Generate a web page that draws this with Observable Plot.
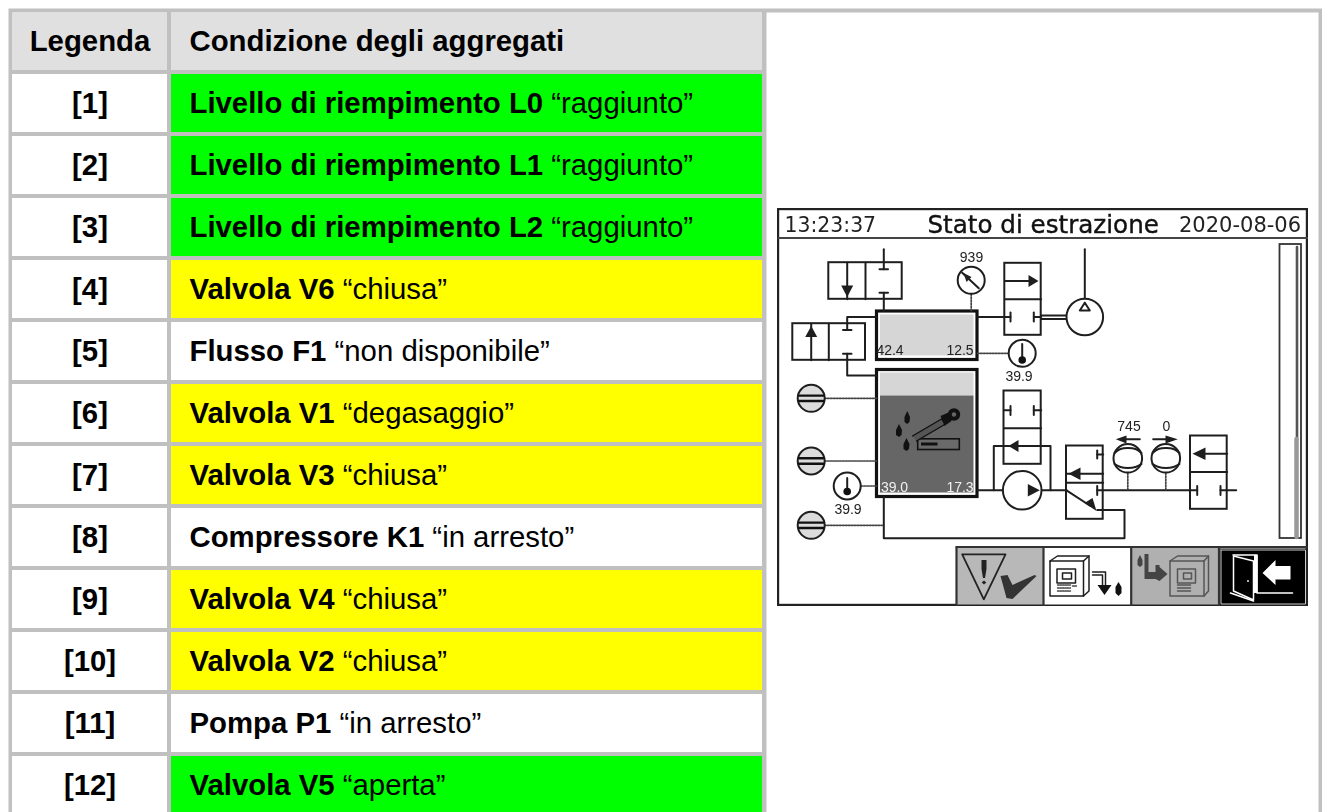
<!DOCTYPE html>
<html><head><meta charset="utf-8">
<style>html,body{margin:0;padding:0;background:#fff;overflow:hidden;width:1322px;height:812px;position:relative}</style>
<script src="https://cdn.jsdelivr.net/npm/d3@7"></script>
<script src="https://cdn.jsdelivr.net/npm/@observablehq/plot@0.6"></script>
</head><body>
<script>
// ---------- table content ----------
const legendLabels = ["Legenda","[1]","[2]","[3]","[4]","[5]","[6]","[7]","[8]","[9]","[10]","[11]","[12]"];
const conditionNames = ["Condizione degli aggregati","Livello di riempimento L0","Livello di riempimento L1","Livello di riempimento L2","Valvola V6","Flusso F1","Valvola V1","Valvola V3","Compressore K1","Valvola V4","Valvola V2","Pompa P1","Valvola V5"];
const conditionStates = ["","“raggiunto”","“raggiunto”","“raggiunto”","“chiusa”","“non disponibile”","“degasaggio”","“chiusa”","“in arresto”","“chiusa”","“chiusa”","“in arresto”","“aperta”"];
const rowStatus = ["head","ok","ok","ok","warn","off","warn","warn","off","warn","warn","off","ok"];

const statusColor = {head:"#e0e0e0", ok:"#00ff00", warn:"#ffff00", off:"#ffffff"};
const FONT = "Liberation Sans, Arial, sans-serif";
const FS = 29.33;
const ctx = document.createElement("canvas").getContext("2d");
ctx.font = `bold ${FS}px "Liberation Sans"`;
const rows = legendLabels.map((legend,i)=>({
  legend, name:conditionNames[i], state:conditionStates[i],
  fill:statusColor[rowStatus[i]], legendFill:i===0?statusColor.head:"#ffffff",
  stateX:189+ctx.measureText(conditionNames[i]+" ").width
}));

const table = Plot.plot({
  width:1322,height:812,marginTop:8,marginLeft:8,marginRight:0,marginBottom:0,
  style:{position:"absolute",left:0,top:0,background:"#fff"},
  x:{domain:[8,1322],range:[8,1322],axis:null},
  y:{type:"band",domain:legendLabels,range:[12,814],paddingInner:4/62,paddingOuter:0,round:false,axis:null},
  color:{type:"identity"},
  marks:[
    Plot.frame({fill:"#c0c0c0",stroke:"none"}),
    Plot.frame({fill:"#ffffff",stroke:"none",insetLeft:758,insetTop:4,insetRight:4}),
    Plot.barX(rows,{x1:12,x2:167,y:"legend",fill:"legendFill"}),
    Plot.barX(rows,{x1:171,x2:762,y:"legend",fill:"fill"}),
    Plot.text(rows,{x:89.5,y:"legend",text:"legend",fontWeight:"bold",fontSize:FS,fontFamily:FONT,fill:"#000"}),
    Plot.text(rows,{x:189,y:"legend",text:"name",fontWeight:"bold",fontSize:FS,fontFamily:FONT,textAnchor:"start",fill:"#000"}),
    Plot.text(rows,{x:"stateX",y:"legend",text:"state",fontSize:FS,fontFamily:FONT,textAnchor:"start",fill:"#000"})
  ]
});
document.body.appendChild(table);

// ---------- instrument screen (values in page pixels) ----------
const ink = "#1e1e1e";
const LW = 2;
const panelBoxes = [
  [828.3,261.7,901.7,298.3],[792.3,322.7,865,359.3],
  [1004.3,262.3,1040.7,334.3],[1003.5,390,1040.7,463.3],
  [1066,445,1102.7,518.3],[1190,435,1226.7,508.3]
];
const pipeLines = [
  [865,261.7,865,298.3],[828.3,322.7,828.3,359.3],
  [846.7,261.7,846.7,298.3],[810.7,322.7,810.7,359.3],
  [883.3,248.3,883.3,268.3],[879,268.3,887.5,268.3],[879,291.7,887.5,291.7],[883.3,291.7,883.3,310],
  [876,316,846.7,316,846.7,329],[842.5,329,851,329],[842.5,352.7,851,352.7],[846.7,352.7,846.7,374.5,876,374.5],
  [1004.3,298.3,1040.7,298.3],[977,316,1010,316],[1010,311.5,1010,320.5],[1033.3,311.5,1033.3,320.5],
  [1033.3,316,1040.7,316],[1004.3,280,1030,280],
  [1040.7,314.5,1066.7,314.5],[1040.7,318,1066.7,318],[1084.3,248.3,1084.3,298],
  [1003.5,427.3,1040.7,427.3],[1010,405,1010,414],[1033.3,405,1033.3,414],[1003.5,409.3,1010,409.3],[1033.3,409.3,1040.7,409.3],
  [977,489.3,1003,489.3],[993.3,489.3,993.3,445,1050,445,1050,489.3],[1040,489.3,1066,489.3],
  [883.3,496,883.3,537.3,1124,537.3,1124,509,1096.7,509],
  [1066,481.7,1102.7,481.7],[1066,472.7,1102.7,472.7],[1096.7,449.5,1096.7,457.5],[1096.7,453.5,1102.7,453.5],
  [1066,489.3,1090,505],[1096.7,485,1096.7,494],[1096.7,489.3,1196.7,489.3],[1196.7,485,1196.7,494],
  [1190,471,1226.7,471],[1205,452.7,1226.7,452.7],[1220,485,1220,494],[1220,489.3,1235.7,489.3],
  [1120,438.3,1139.3,438.3],[1152.7,438.3,1172,438.3]
];
const solidShapes = [
  [840.7,284.5,852.7,284.5,846.7,296],[804.7,336,816.7,336,810.7,325],
  [1028,274,1028,286,1038,280],[1018,439,1018,451,1008,445],
  [1027.3,483,1027.3,495.5,1039.3,489.3],[1080,466.5,1080,479,1068,472.7],
  [1084,502,1092,497,1096,510],
  [1205,446.5,1205,459,1192,452.7],
  [1126,434.5,1126,442.5,1115.3,438.3],[1165,434.5,1165,442.5,1177.3,438.3]
];
const dottedLines = [
  [970.7,293,970.7,310],[977,352.3,1008,352.3],[824,397.3,876,397.3],[824,460,876,460],[824,524.3,882,524.3],
  [860.7,485,876,485],[1127.3,472,1127.3,489],[1165.3,472,1165.3,489]
];
const roundGauges = [[970.7,279.3,13.5],[1021.7,352.3,13.5],[846.7,485,13.5],[1127.3,457.3,14.3],[1165.3,457.3,14.3],[1084.3,316,18.3],[1021.7,489.3,19.3]];
const levelSwitches = [[810.7,397.3,13.5],[810.7,460,13.5],[810.7,524.3,13.5]];
const bulbs = [[1021.7,359,3.8],[846.7,490.5,3.8]];
const thermoStems = [[1021.7,343,1021.7,359],[846.7,477,846.7,490]];
const gaugeNeedle = [[961.7,271.7,978.3,287.3]];
const gaugeNeedleHead = [[963,272,971,276,966,281]];
const pumpOpen = [[1084.3,301.7,1079.3,309.5,1089.3,309.5,1084.3,301.7]];
const flowArcs = [
  [1114,452,1120,448,1127.3,447,1135,448,1141,452],[1114,463,1120,466,1127.3,467,1135,466,1141,463],
  [1152,452,1158,448,1165.3,447,1173,448,1179,452],[1152,463,1158,466,1165.3,467,1173,466,1179,463]
];
const lightFills = [[880,314,973.5,355],[880,372,973.5,395]];
const darkFill = [[880,395,973.5,492]];
const frameBoxes = [[876.5,310.5,977,359],[876.5,369,977,496]];
const labels = [
  {t:"939",x:971,y:257},{t:"42.4",x:889.5,y:350},{t:"12.5",x:959.5,y:350},
  {t:"39.9",x:1018.5,y:376},{t:"39.9",x:847.5,y:508.5},{t:"745",x:1128.5,y:425.5},{t:"0",x:1166,y:425.5}
];
const lightLabels = [{t:"39.0",x:894,y:487},{t:"17.3",x:959.5,y:487}];
const headerTime = "13:23:37", headerTitle = "Stato di estrazione", headerDate = "2020-08-06";

const buttonFills = [
  {x1:956,y1:547,x2:1043,y2:604,f:"#b8b8b8"},{x1:1043,y1:547,x2:1130.7,y2:604,f:"#ffffff"},
  {x1:1130.7,y1:547,x2:1218.3,y2:604,f:"#b0b0b0"},{x1:1219.5,y1:548,x2:1306,y2:604,f:"#000000"}
];
const buttonLines = [[956,546,1307,546],[956,546,956,605],[1043,546,1043,605],[1130.7,546,1130.7,605],[1218.5,546,1218.5,605]];
const warnTriangle = [[961.7,553.3,1005,553.3,983.3,598.3,961.7,553.3]];
const warnMark = [[981,559,986,559,986,568,984.5,577,982.5,577,981,568]];
const warnDot = [[983.5,579.5,985.8,581.5,983.5,583.5,981.2,581.5]];
const checkMark = [[1000,575,1007,574,1012,584,1034,574,1036,575,1012,598,1006,597]];
const deviceOutline = [[1049.5,560,1083,560,1083,595,1049.5,595,1049.5,560],[1049.5,560,1057,555,1088.5,555,1088.5,590,1083,595],[1083,560,1088.5,555]];
const deviceScreen = [[1056.5,568,1075,568,1075,582,1056.5,582,1056.5,568],[1062,572,1071,572,1071,578,1062,578,1062,572]];
const deviceKeys = [[1057,584,1070,584],[1057,587,1070,587],[1057,590,1070,590],[1072,585,1076,585]];
const deviceGray = [[1169.5,560,1203.5,560,1203.5,595,1169.5,595,1169.5,560],[1169.5,560,1177,555,1208,555,1208,590,1203.5,595],[1203.5,560,1208,555],
  [1177,568,1195,568,1195,582,1177,582,1177,568],[1183,572,1191,572,1191,578,1183,578,1183,572],[1177,584,1190,584],[1177,587,1190,587],[1177,590,1190,590]];
const outArrow = [[1092,571,1105,571,1105,584],[1092,574,1102,574,1102,584]];
const outHead = [[1097,584,1111,584,1104,594]];
const dropsA = [[1118,581,1121,586,1121,592,1118,595,1115,592,1115,586]];
const dropsB = [[1139.5,554,1142,559,1142,564,1139.5,566,1137,564,1137,559]];
const inArrow = [[1148,553,1148,571,1155,571,1155,564,1159,564,1159,566,1167,573,1159,580,1155,578,1144,578,1144,553]];
const doorFrame = [[1232.5,554,1256.5,554,1256.5,592,1292,592],[1230,592,1253,600]];
const doorWhite = [[1253.5,554,1257,554,1257,592,1253.5,592]];
const exitArrow = [[1262,572,1275,559,1275,565,1290,565,1290,578.5,1275,578.5,1275,584]];
const exitDot = [[1247.5,580,0.9]];
const dropperBody = [[912,435,941,418,945,423,916,440]];
const dropperGrip = [[940,415,949,411,951,420,944,425]];
const dropletsDark = [
  [906.7,410,909.5,416,909,421,906.7,423,904,421,904,416],
  [898.5,423,901.5,429,901,434,898.5,436,895.5,434,895.5,429],
  [906,437,909,443,908.5,448,906,450,903,448,903,443]
];
const gaugeBar = [[917.7,438.3,959.3,449]];
const gaugeBarFill = [[921,442,937.5,445]];

const pathData = (list)=>list.flatMap((p,id)=>{const o=[];for(let i=0;i+1<p.length;i+=2)o.push({x:p[i],y:p[i+1],id});return o;});
const X=d=>d.x,Y=d=>d.y,Z=d=>d.id;
const stroke=(list,o={})=>Plot.line(pathData(list),{x:X,y:Y,z:Z,curve:"linear",stroke:ink,strokeWidth:LW,...o});
const solid=(list,f=ink,o={})=>Plot.line(pathData(list),{x:X,y:Y,z:Z,curve:"linear",fill:f,stroke:"none",...o});
const box=(list,o={})=>Plot.rect(list,{x1:d=>d[0],y1:d=>d[1],x2:d=>d[2],y2:d=>d[3],...o});
const circ=(list,o={})=>Plot.dot(list,{x:d=>d[0],y:d=>d[1],r:d=>d[2],...o});
const txt=(list,o={})=>Plot.text(list,{x:"x",y:"y",text:"t",fontFamily:"Liberation Sans",fontSize:14,fill:"#222",...o});
const smooth=(list,o={})=>stroke(list,{curve:"catmull-rom",...o});

const panel = Plot.plot({
  width:531,height:398,marginTop:0,marginLeft:0,marginRight:0,marginBottom:0,
  style:{position:"absolute",left:"777px",top:"207.5px",background:"#fff",filter:"blur(0.5px)"},
  x:{domain:[777,1308],range:[0,531],axis:null},
  y:{domain:[207.5,605.5],range:[0,398],axis:null},
  r:{type:"identity"},
  color:{type:"identity"},
  marks:[
    box([[778,208.5,1307,604.5]],{stroke:"#222",strokeWidth:2.4,fill:"#fff"}),
    stroke([[778,237,1307,237]],{stroke:"#444",strokeWidth:2.2}),
    Plot.text([headerTime],{x:784,y:224,text:d=>d,textAnchor:"start",fontFamily:"DejaVu Sans",fontSize:20.4,fill:"#222"}),
    Plot.text([headerTitle],{x:927,y:224,text:d=>d,textAnchor:"start",fontFamily:"DejaVu Sans",fontSize:24.6,fill:"#111",stroke:"#111",strokeWidth:0.4}),
    Plot.text([headerDate],{x:1178.5,y:224,text:d=>d,textAnchor:"start",fontFamily:"DejaVu Sans",fontSize:21,fill:"#222"}),
    box([[1279.5,243.5,1301,537.5]],{stroke:"#333",strokeWidth:1.8,fill:"#fff"}),
    stroke([[1296.5,246,1296.5,438]],{stroke:"#555",strokeWidth:2.6}),
    stroke([[1296,438,1296,536]],{stroke:"#999",strokeWidth:4.5}),
    box(lightFills,{fill:"#d6d6d6"}),
    box(darkFill,{fill:"#666666"}),
    box(frameBoxes,{stroke:"#111",strokeWidth:3.2,fill:"none"}),
    box(panelBoxes,{stroke:ink,strokeWidth:LW,fill:"none"}),
    stroke(pipeLines),
    solid(solidShapes),
    stroke(dottedLines,{strokeDasharray:"1.6,1.4",strokeWidth:1.7,stroke:"#444"}),
    circ(roundGauges,{stroke:ink,strokeWidth:LW,fill:"#fff"}),
    circ(levelSwitches,{stroke:ink,strokeWidth:LW,fill:"#dcdcdc"}),
    stroke(levelSwitches.flatMap(d=>[[d[0]-12,d[1]-2.7,d[0]+12,d[1]-2.7],[d[0]-12,d[1]+2.7,d[0]+12,d[1]+2.7]]),{strokeWidth:2.4,stroke:"#111"}),
    stroke(thermoStems),
    circ(bulbs,{fill:"#111"}),
    stroke(gaugeNeedle),
    solid(gaugeNeedleHead,"#222"),
    stroke(pumpOpen),
    solid([[1027.3,483,1027.3,495.5,1039.3,489.3]]),
    smooth(flowArcs),
    txt(labels),
    txt(lightLabels,{fill:"#f0f0f0"}),
    solid(dropletsDark,"#111"),
    box(gaugeBar,{stroke:"#111",strokeWidth:1.6,fill:"#6a6a6a"}),
    box(gaugeBarFill,{fill:"#111"}),
    solid(dropperBody,"#555",{stroke:"#111",strokeWidth:1.4}),
    solid(dropperGrip,"#111"),
    circ([[953.5,413.5,6.2]],{fill:"#111"}),
    circ([[953.5,413.5,2.2]],{fill:"#666"}),
    Plot.rect(buttonFills,{x1:"x1",y1:"y1",x2:"x2",y2:"y2",fill:"f"}),
    stroke(buttonLines,{stroke:"#333",strokeWidth:2.2}),
    stroke(warnTriangle,{stroke:"#222",strokeWidth:1.8}),
    solid(warnMark,"#222"),solid(warnDot,"#222"),
    solid(checkMark,"#333"),
    stroke(deviceOutline,{strokeWidth:1.5}),stroke(deviceScreen,{strokeWidth:1.5}),
    stroke(deviceKeys,{strokeDasharray:"1.5,1",strokeWidth:1.4,stroke:"#444"}),
    stroke(outArrow,{strokeWidth:1.5}),solid(outHead,"#111"),solid(dropsA,"#111"),
    stroke(deviceGray,{strokeWidth:1.5,stroke:"#555"}),
    solid(inArrow,"#444"),solid(dropsB,"#444"),
    stroke([[1220.5,549,1305,549,1305,603,1220.5,603,1220.5,549]],{stroke:"#ccc",strokeWidth:1}),
    solid(doorWhite,"#fff"),
    stroke(doorFrame,{stroke:"#fff",strokeWidth:1.6}),
    stroke([[1233,555,1253,560,1253,599,1233,590,1233,555]],{stroke:"#fff",strokeWidth:1.5}),
    circ(exitDot,{fill:"#fff"}),
    solid(exitArrow,"#fff")
  ]
});
document.body.appendChild(panel);
</script>
</body></html>
